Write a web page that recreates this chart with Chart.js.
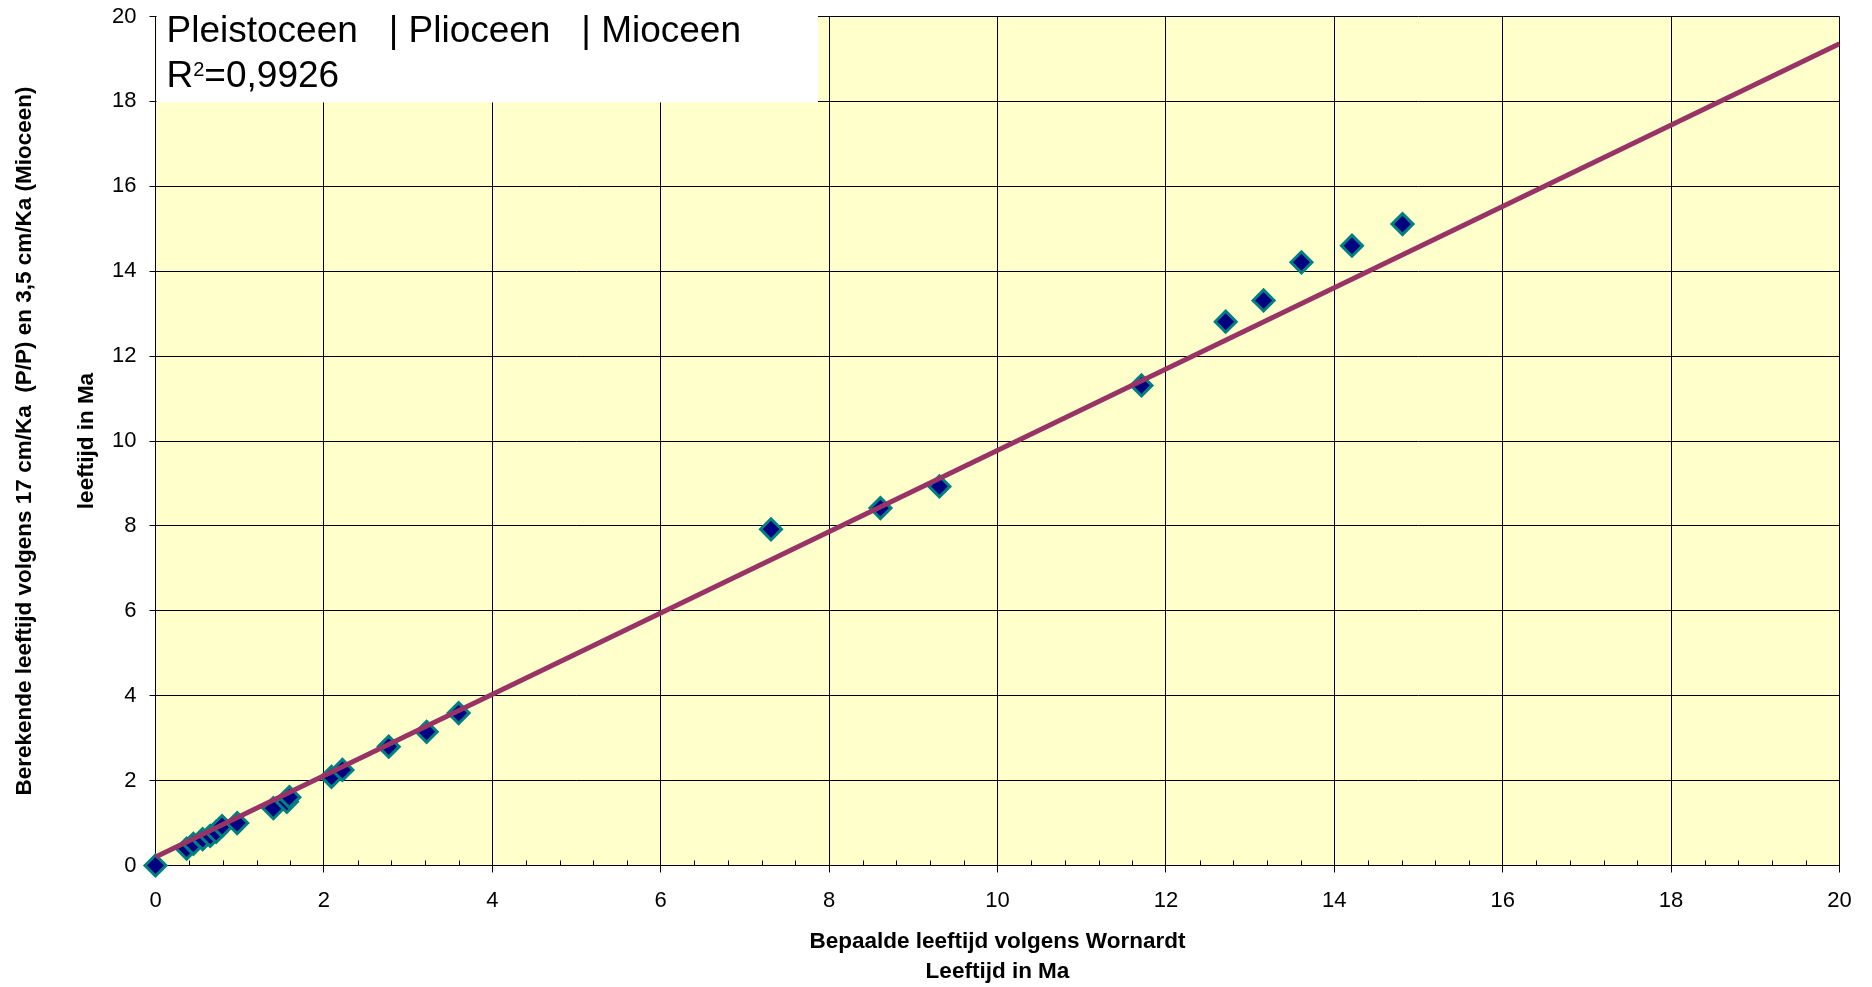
<!DOCTYPE html>
<html>
<head>
<meta charset="utf-8">
<title>Berekende leeftijd vs Wornardt</title>
<script src="https://cdn.jsdelivr.net/npm/chart.js"></script>
<style>
  body { margin: 0; background: #fff; }
  #wrap { width: 1872px; height: 987px; }
</style>
</head>
<body>
<div id="wrap"><canvas id="chart" width="1872" height="987"></canvas></div>
<script>
// bepaalde leeftijd volgens Wornardt (Ma)
const bepaald = [0, 0.37, 0.45, 0.56, 0.65, 0.72, 0.79, 0.97, 1.40, 1.56, 1.59, 2.09, 2.22, 2.77, 3.22, 3.60, 7.31, 8.61, 9.31, 11.71, 12.71, 13.16, 13.61, 14.21, 14.81];
// berekende leeftijd (Ma)
const berekend = [0, 0.40, 0.51, 0.62, 0.70, 0.79, 0.93, 1.00, 1.35, 1.50, 1.61, 2.09, 2.25, 2.80, 3.15, 3.59, 7.92, 8.42, 8.93, 11.31, 12.81, 13.31, 14.21, 14.60, 15.11];

// lineaire trendlijn
const trendX = [0, 20];
const trendY = [0.2, 19.36];

// as-verdeling
const asTicks = [0, 2, 4, 6, 8, 10, 12, 14, 16, 18, 20];

const tijdvakken = "Pleistoceen   | Plioceen   | Mioceen";
const r2 = "0,9926";

const punten = bepaald.map((x, i) => ({ x: x, y: berekend[i] }));
const trend = trendX.map((x, i) => ({ x: x, y: trendY[i] }));

const FONT = "'Liberation Sans', Arial, sans-serif";

// gele achtergrond van het plotvlak
const achtergrond = {
  id: "achtergrond",
  beforeDraw(chart) {
    const { ctx, chartArea: a } = chart;
    ctx.save();
    ctx.fillStyle = "#ffffcc";
    ctx.fillRect(a.left, a.top, a.right - a.left, a.bottom - a.top);
    ctx.restore();
  }
};

// kleine streepjes op de x-as
const kleineStreepjes = {
  id: "kleineStreepjes",
  afterDraw(chart) {
    const ctx = chart.ctx;
    const sx = chart.scales.x;
    const y0 = chart.chartArea.bottom;
    ctx.save();
    ctx.strokeStyle = "#000";
    ctx.lineWidth = 1;
    ctx.beginPath();
    for (let i = 1; i < 50; i++) {
      if (i % 5 === 0) continue;
      const px = Math.round(sx.getPixelForValue(i * 0.4)) + 0.5;
      ctx.moveTo(px, y0);
      ctx.lineTo(px, y0 - 5);
    }
    ctx.stroke();
    ctx.restore();
  }
};

// wit tekstvak linksboven
const tekstvak = {
  id: "tekstvak",
  afterDraw(chart) {
    const ctx = chart.ctx;
    const a = chart.chartArea;
    const onder = chart.scales.y.getPixelForValue(18) + 1;
    const x0 = a.left + 11;
    ctx.save();
    ctx.fillStyle = "#fff";
    ctx.fillRect(a.left + 1, 0, 818 - a.left - 1, onder);
    ctx.fillStyle = "#000";
    ctx.textBaseline = "alphabetic";
    ctx.font = "37px " + FONT;
    ctx.fillText(tijdvakken, x0, 42);
    ctx.fillText("R", x0, 87);
    const rw = ctx.measureText("R").width;
    ctx.font = "20px " + FONT;
    ctx.fillText("2", x0 + rw, 76);
    const w2 = ctx.measureText("2").width;
    ctx.font = "37px " + FONT;
    ctx.fillText("=" + r2, x0 + rw + w2, 87);
    ctx.restore();
  }
};

const ctx = document.getElementById("chart");

new Chart(ctx, {
  type: "scatter",
  data: {
    datasets: [
      {
        label: "trend",
        data: trend,
        showLine: true,
        borderColor: "#993366",
        borderWidth: 5,
        pointRadius: 0,
        pointHoverRadius: 0
      },
      {
        label: "leeftijd",
        data: punten,
        pointStyle: "rectRot",
        pointRadius: 10.5,
        pointHoverRadius: 10.5,
        backgroundColor: "#000080",
        borderColor: "#008080",
        borderWidth: 3,
        clip: false
      }
    ]
  },
  options: {
    responsive: false,
    devicePixelRatio: 1,
    animation: false,
    layout: { padding: { left: 0, top: 16.5, right: 32.5, bottom: 0 } },
    plugins: {
      legend: { display: false },
      tooltip: { enabled: false }
    },
    scales: {
      x: {
        type: "linear",
        min: 0,
        max: 20,
        afterBuildTicks: (s) => { s.ticks = asTicks.map(v => ({ value: v })); },
        afterFit: (s) => { s.height = 121.5; s.paddingLeft = 0; s.paddingRight = 0; },
        grid: { color: "#000", lineWidth: 1, tickLength: 7, tickColor: "#000" },
        border: { color: "#000", width: 1 },
        ticks: { color: "#000", font: { family: FONT, size: 22 }, padding: 15, maxRotation: 0 },
        title: {
          display: true,
          text: ["Bepaalde leeftijd volgens Wornardt", "Leeftijd in Ma"],
          color: "#000",
          font: { family: FONT, size: 22.5, weight: "bold", lineHeight: 1.33 },
          padding: { top: 0, bottom: 0.5 }
        }
      },
      y: {
        type: "linear",
        min: 0,
        max: 20,
        afterBuildTicks: (s) => { s.ticks = asTicks.map(v => ({ value: v })); },
        afterFit: (s) => { s.width = 155.5; s.paddingTop = 0; s.paddingBottom = 0; },
        grid: { color: "#000", lineWidth: 1, tickLength: 6, tickColor: "#000" },
        border: { color: "#000", width: 1 },
        ticks: { color: "#000", font: { family: FONT, size: 22 }, padding: 13 },
        title: {
          display: true,
          text: ["Berekende leeftijd volgens 17 cm/Ka  (P/P) en 3,5 cm/Ka (Mioceen)", "", "leeftijd in Ma"],
          color: "#000",
          font: { family: FONT, size: 22.5, weight: "bold", lineHeight: 1.37 },
          padding: { top: 9.5, bottom: 0 }
        }
      }
    }
  },
  plugins: [achtergrond, kleineStreepjes, tekstvak]
});
</script>
</body>
</html>
